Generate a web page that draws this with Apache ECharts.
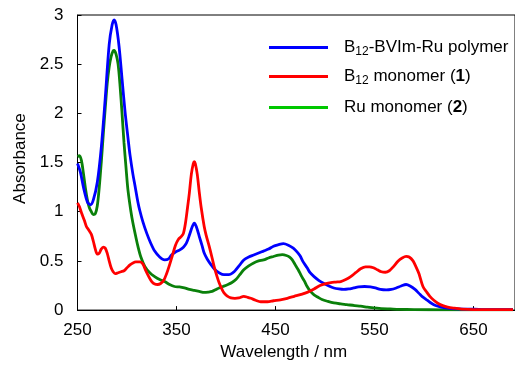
<!DOCTYPE html>
<html>
<head>
<meta charset="utf-8">
<script src="https://cdn.jsdelivr.net/npm/echarts@6/dist/echarts.min.js"></script>
<style>
  html, body { margin: 0; padding: 0; background: #fff; }
  #chart { width: 515px; height: 366px; }
</style>
</head>
<body>
<div id="chart"></div>
<script>
// B12-BVIm-Ru polymer
const polymerNm = [250, 253, 256, 260, 263, 266, 270, 274, 278, 282, 285, 287, 289, 292, 295, 298, 301, 303, 306, 308, 311, 313, 316, 320, 324, 328, 333, 338, 342, 345, 349, 353, 357, 360, 363, 366, 368, 370, 373, 376, 378, 381, 385, 389, 393, 398, 403, 407, 410, 414, 418, 423, 428, 433, 438, 443, 448, 453, 458, 463, 468, 472, 475, 478, 482, 485, 489, 494, 499, 504, 509, 514, 519, 524, 529, 534, 540, 546, 551, 556, 562, 567, 572, 577, 582, 586, 591, 595, 598, 602, 606, 610, 614, 620, 628, 640, 651, 660, 690]
const polymerAbs = [1.49, 1.40, 1.25, 1.10, 1.07, 1.12, 1.30, 1.65, 2.15, 2.70, 2.90, 2.95, 2.90, 2.68, 2.35, 2.02, 1.75, 1.58, 1.38, 1.27, 1.10, 1.01, 0.90, 0.78, 0.68, 0.60, 0.54, 0.51, 0.52, 0.56, 0.59, 0.61, 0.64, 0.68, 0.76, 0.85, 0.885, 0.85, 0.75, 0.65, 0.58, 0.52, 0.46, 0.41, 0.38, 0.36, 0.36, 0.38, 0.41, 0.46, 0.51, 0.54, 0.56, 0.58, 0.60, 0.62, 0.65, 0.665, 0.675, 0.66, 0.63, 0.59, 0.55, 0.49, 0.43, 0.38, 0.34, 0.30, 0.27, 0.245, 0.225, 0.215, 0.21, 0.215, 0.225, 0.235, 0.24, 0.235, 0.225, 0.21, 0.205, 0.21, 0.225, 0.245, 0.26, 0.245, 0.21, 0.17, 0.14, 0.11, 0.08, 0.055, 0.04, 0.025, 0.015, 0.01, 0.01, 0.005, 0.005]

// B12 monomer (1)
const b12Nm = [250, 252, 254, 257, 259, 261, 264, 266, 268, 270, 272, 274, 276, 278, 280, 282, 284, 286, 288, 291, 294, 297, 300, 303, 306, 309, 313, 316, 319, 322, 325, 328, 331, 334, 337, 340, 343, 346, 349, 352, 355, 357, 359, 361, 363, 365, 367, 368, 369, 371, 373, 375, 378, 380, 383, 386, 388, 391, 393, 396, 398, 401, 405, 409, 413, 418, 422, 425, 430, 435, 442, 448, 455, 462, 469, 476, 482, 489, 495, 501, 506, 511, 516, 521, 526, 531, 536, 541, 545, 549, 553, 557, 561, 565, 569, 574, 578, 582, 585, 589, 592, 595, 599, 603, 606, 610, 614, 619, 624, 630, 638, 650, 690]
const b12Abs = [1.09, 1.05, 0.99, 0.91, 0.85, 0.82, 0.77, 0.70, 0.62, 0.57, 0.58, 0.62, 0.64, 0.63, 0.58, 0.50, 0.43, 0.39, 0.37, 0.38, 0.39, 0.40, 0.43, 0.46, 0.48, 0.49, 0.49, 0.47, 0.40, 0.34, 0.29, 0.265, 0.26, 0.27, 0.30, 0.37, 0.46, 0.56, 0.66, 0.72, 0.75, 0.78, 0.88, 1.03, 1.19, 1.38, 1.49, 1.51, 1.49, 1.38, 1.20, 1.04, 0.85, 0.76, 0.65, 0.53, 0.445, 0.34, 0.28, 0.21, 0.175, 0.145, 0.124, 0.12, 0.124, 0.14, 0.13, 0.12, 0.10, 0.085, 0.085, 0.095, 0.105, 0.12, 0.14, 0.16, 0.18, 0.215, 0.25, 0.27, 0.28, 0.285, 0.29, 0.31, 0.34, 0.38, 0.42, 0.44, 0.44, 0.43, 0.41, 0.39, 0.385, 0.40, 0.44, 0.50, 0.53, 0.546, 0.54, 0.50, 0.44, 0.37, 0.24, 0.18, 0.14, 0.10, 0.07, 0.045, 0.03, 0.02, 0.01, 0.005, 0.005]

// Ru monomer (2)
const ruNm = [250, 252, 254, 256, 258, 260, 262, 264, 266, 268, 270, 272, 274, 276, 278, 280, 282, 284, 286, 287, 289, 291, 293, 295, 297, 299, 301, 304, 306, 309, 311, 314, 318, 323, 328, 333, 338, 343, 348, 353, 358, 363, 368, 373, 378, 382, 386, 390, 393, 397, 402, 406, 410, 414, 418, 423, 428, 433, 438, 443, 448, 453, 457, 461, 464, 467, 470, 473, 476, 479, 482, 485, 489, 493, 497, 503, 509, 516, 522, 530, 536, 543, 549, 557, 566, 575, 590, 620, 690]
const ruAbs = [1.56, 1.57, 1.52, 1.39, 1.24, 1.12, 1.04, 1.00, 0.97, 0.98, 1.06, 1.25, 1.50, 1.78, 2.05, 2.30, 2.47, 2.58, 2.635, 2.64, 2.60, 2.50, 2.28, 2.00, 1.70, 1.45, 1.22, 1.00, 0.885, 0.74, 0.65, 0.54, 0.445, 0.38, 0.34, 0.31, 0.29, 0.26, 0.24, 0.235, 0.225, 0.21, 0.20, 0.19, 0.18, 0.183, 0.19, 0.21, 0.225, 0.24, 0.26, 0.28, 0.31, 0.36, 0.41, 0.45, 0.48, 0.50, 0.51, 0.53, 0.545, 0.56, 0.563, 0.555, 0.54, 0.51, 0.46, 0.41, 0.35, 0.30, 0.24, 0.195, 0.155, 0.13, 0.107, 0.088, 0.073, 0.063, 0.056, 0.046, 0.04, 0.03, 0.022, 0.016, 0.012, 0.008, 0.005, 0.003, 0.003]

const seriesNames = ['B12-BVIm-Ru polymer', 'B12 monomer (1)', 'Ru monomer (2)']
const legendLabels = ['B{sub|12}-BVIm-Ru polymer', 'B{sub|12} monomer ({b|1})', 'Ru monomer ({b|2})']

const FONT = 'Liberation Sans, Arial, sans-serif'
const FS = 17

const zip = (xs, ys) => xs.map((x, i) => [x, ys[i]])

const chart = echarts.init(document.getElementById('chart'), null, { renderer: 'canvas' })

const legendRich = {
  sub: { fontSize: 12, fontFamily: FONT, color: '#000', verticalAlign: 'bottom', lineHeight: 15 },
  b: { fontSize: FS, fontFamily: FONT, color: '#000', fontWeight: 'bold', lineHeight: 21 },
}

function makeLegend(name, color, top) {
  return {
    top: top,
    left: 269,
    padding: 0,
    icon: 'rect',
    itemWidth: 59,
    itemHeight: 3,
    data: [{ name: name, itemStyle: { color: color } }],
    formatter: (n) => legendLabels[seriesNames.indexOf(n)],
    textStyle: {
      fontSize: FS, fontFamily: FONT, color: '#000', lineHeight: 21,
      padding: [0, 0, 0, 11],
      rich: legendRich,
    },
    selectedMode: false,
  }
}

const option = {
  animation: false,
  backgroundColor: '#fff',
  grid: {
    left: 77.5, right: -2, top: 15, bottom: 55.5,
    show: true, borderColor: '#000', borderWidth: 1,
  },
  legend: [
    makeLegend(seriesNames[0], '#0000ff', 37),
    makeLegend(seriesNames[1], '#ff0000', 66),
    makeLegend(seriesNames[2], '#00c800', 97),
  ],
  xAxis: {
    type: 'value',
    min: 250,
    max: 692,
    interval: 100,
    name: 'Wavelength / nm',
    nameLocation: 'middle',
    nameGap: 33,
    nameTextStyle: { fontSize: FS, fontFamily: FONT, color: '#000', padding: [0, 25, 0, 0] },
    axisLine: { lineStyle: { color: '#000', width: 1 } },
    axisTick: { inside: true, length: 4, lineStyle: { color: '#000' } },
    axisLabel: { fontSize: FS, fontFamily: FONT, color: '#000', margin: 12, showMaxLabel: false },
    splitLine: { show: false },
  },
  yAxis: {
    type: 'value',
    min: 0,
    max: 3,
    interval: 0.5,
    name: 'Absorbance',
    nameLocation: 'middle',
    nameGap: 43,
    nameRotate: 90,
    nameTextStyle: { fontSize: FS, fontFamily: FONT, color: '#000', padding: [0, 0, 0, 8] },
    axisLine: { show: true, lineStyle: { color: '#000', width: 1 } },
    axisTick: { show: true, inside: true, length: 4, lineStyle: { color: '#000' } },
    axisLabel: { fontSize: FS, fontFamily: FONT, color: '#000', margin: 14 },
    splitLine: { show: false },
  },
  series: [
    {
      name: seriesNames[2],
      type: 'line',
      data: zip(ruNm, ruAbs),
      showSymbol: false,
      smooth: 0.3,
      lineStyle: { color: '#0a800a', width: 2.8 },
      itemStyle: { color: '#00c800' },
      z: 2,
    },
    {
      name: seriesNames[0],
      type: 'line',
      data: zip(polymerNm, polymerAbs),
      showSymbol: false,
      smooth: 0.3,
      lineStyle: { color: '#0000ff', width: 2.8 },
      itemStyle: { color: '#0000ff' },
      z: 3,
    },
    {
      name: seriesNames[1],
      type: 'line',
      data: zip(b12Nm, b12Abs),
      showSymbol: false,
      smooth: 0.3,
      lineStyle: { color: '#ff0000', width: 2.8 },
      itemStyle: { color: '#ff0000' },
      z: 4,
    },
  ],
}

chart.setOption(option)
</script>
</body>
</html>
